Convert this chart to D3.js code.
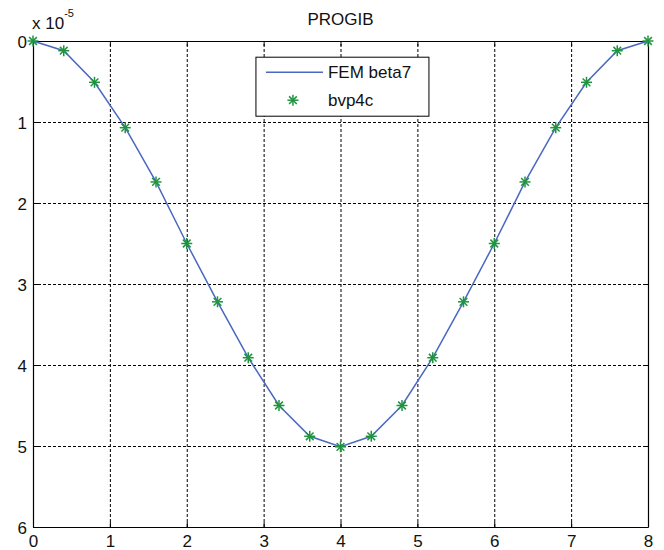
<!DOCTYPE html>
<html>
<head>
<meta charset="utf-8">
<script src="https://cdn.jsdelivr.net/npm/d3@7"></script>
<style>
  body { margin: 0; background: #fff; }
  svg { font-family: "Liberation Sans", Arial, sans-serif; }
  .tick text { font-size: 17px; fill: #111; }
  .grid line { stroke: #000; stroke-dasharray: 3,2; stroke-width: 1; }
  .grid .domain { display: none; }
</style>
</head>
<body>
<svg></svg>
<script>
// deflection values in units of 1e-5
const xNodes = [0, 0.4, 0.8, 1.2, 1.6, 2.0, 2.4, 2.8, 3.2, 3.6, 4.0, 4.4, 4.8, 5.2, 5.6, 6.0, 6.4, 6.8, 7.2, 7.6, 8.0];
const femBeta7 = [0, 0.12, 0.51, 1.07, 1.74, 2.50, 3.22, 3.91, 4.50, 4.88, 5.01, 4.88, 4.50, 3.91, 3.22, 2.50, 1.74, 1.07, 0.51, 0.12, 0];
const bvp4c = [0, 0.12, 0.51, 1.07, 1.74, 2.50, 3.22, 3.91, 4.50, 4.88, 5.01, 4.88, 4.50, 3.91, 3.22, 2.50, 1.74, 1.07, 0.51, 0.12, 0];
const xTicks = [0, 1, 2, 3, 4, 5, 6, 7, 8];
const yTicks = [0, 1, 2, 3, 4, 5, 6];
const seriesNames = ["FEM beta7", "bvp4c"];

const margin = { top: 41, right: 16, bottom: 23, left: 33 };
const W = 664, H = 550;
const width = W - margin.left - margin.right;
const height = H - margin.top - margin.bottom;

const lineColor = "#4a68c0";
const starColor = "#1f9440";

const svg = d3.select("svg")
  .attr("width", W)
  .attr("height", H)
  .append("g")
  .attr("transform", `translate(${margin.left},${margin.top})`);

const x = d3.scaleLinear().domain([0, 8]).range([0, width]);
const y = d3.scaleLinear().domain([0, 6]).range([0, height]);

// dashed grid
svg.append("g").attr("class", "grid")
  .attr("transform", `translate(0,${height})`)
  .call(d3.axisBottom(x).tickValues(xTicks).tickSize(-height).tickFormat(""));
svg.append("g").attr("class", "grid")
  .call(d3.axisLeft(y).tickValues(yTicks).tickSize(-width).tickFormat(""));

// axes with inward ticks on all sides
const bottom = svg.append("g")
  .attr("transform", `translate(0,${height})`)
  .call(d3.axisBottom(x).tickValues(xTicks).tickSizeInner(-5).tickSizeOuter(0).tickPadding(8).tickFormat(d3.format("d")));
const left = svg.append("g")
  .call(d3.axisLeft(y).tickValues(yTicks).tickSizeInner(-5).tickSizeOuter(0).tickPadding(6).tickFormat(d3.format("d")));
svg.append("g")
  .call(d3.axisTop(x).tickValues(xTicks).tickSizeInner(-5).tickSizeOuter(0).tickFormat(""));
svg.append("g")
  .attr("transform", `translate(${width},0)`)
  .call(d3.axisRight(y).tickValues(yTicks).tickSizeInner(-5).tickSizeOuter(0).tickFormat(""));
svg.selectAll(".domain").filter(function () { return !this.parentNode.classList.contains("grid"); })
  .attr("stroke", "#000").attr("stroke-width", 1.2);
svg.selectAll(".tick line").filter(function () { return !this.parentNode.parentNode.classList.contains("grid"); })
  .attr("stroke", "#000");
bottom.selectAll(".tick text").attr("dy", "0.72em");
left.selectAll(".tick text").attr("dy", "0.36em");

// exponent label
const expo = svg.append("text")
  .attr("x", -1)
  .attr("y", -12)
  .attr("font-size", 17)
  .attr("fill", "#111");
expo.append("tspan").text("x 10");
expo.append("tspan").attr("font-size", 11).attr("dy", -12).text("-5");

// title
svg.append("text")
  .attr("x", width / 2)
  .attr("y", -16)
  .attr("text-anchor", "middle")
  .attr("font-size", 17)
  .attr("fill", "#111")
  .text("PROGIB");

const femData = xNodes.map((d, i) => ({ x: d, y: femBeta7[i] }));
const bvpData = xNodes.map((d, i) => ({ x: d, y: bvp4c[i] }));

const line = d3.line().x(d => x(d.x)).y(d => y(d.y));

svg.append("path")
  .datum(femData)
  .attr("fill", "none")
  .attr("stroke", lineColor)
  .attr("stroke-width", 1.5)
  .attr("d", line);

// matlab style asterisk marker
function star(g, s) {
  g.append("line").attr("x1", -s).attr("x2", s).attr("y1", 0).attr("y2", 0);
  g.append("line").attr("x1", 0).attr("x2", 0).attr("y1", -s).attr("y2", s);
  g.append("line").attr("x1", -s * 0.7).attr("x2", s * 0.7).attr("y1", -s * 0.7).attr("y2", s * 0.7);
  g.append("line").attr("x1", -s * 0.7).attr("x2", s * 0.7).attr("y1", s * 0.7).attr("y2", -s * 0.7);
}

svg.selectAll(".marker")
  .data(bvpData)
  .join("g")
  .attr("class", "marker")
  .attr("transform", d => `translate(${x(d.x)},${y(d.y)})`)
  .attr("stroke", starColor)
  .attr("stroke-width", 1.5)
  .each(function () { star(d3.select(this), 5.5); });

// legend
const legend = svg.append("g").attr("transform", `translate(${x(2.9)},${y(0.2)})`);
legend.append("rect")
  .attr("width", 173)
  .attr("height", 59)
  .attr("fill", "#fff")
  .attr("stroke", "#000")
  .attr("stroke-width", 1);
legend.append("line")
  .attr("x1", 10).attr("x2", 67)
  .attr("y1", 15).attr("y2", 15)
  .attr("stroke", lineColor)
  .attr("stroke-width", 1.5);
legend.append("g")
  .attr("transform", "translate(37,43)")
  .attr("stroke", starColor)
  .attr("stroke-width", 1.5)
  .each(function () { star(d3.select(this), 5.5); });
legend.selectAll(".ltext")
  .data(seriesNames)
  .join("text")
  .attr("class", "ltext")
  .attr("x", 72)
  .attr("y", (d, i) => 15 + i * 28)
  .attr("dy", "0.36em")
  .attr("font-size", 17)
  .attr("fill", "#111")
  .text(d => d);
</script>
</body>
</html>
